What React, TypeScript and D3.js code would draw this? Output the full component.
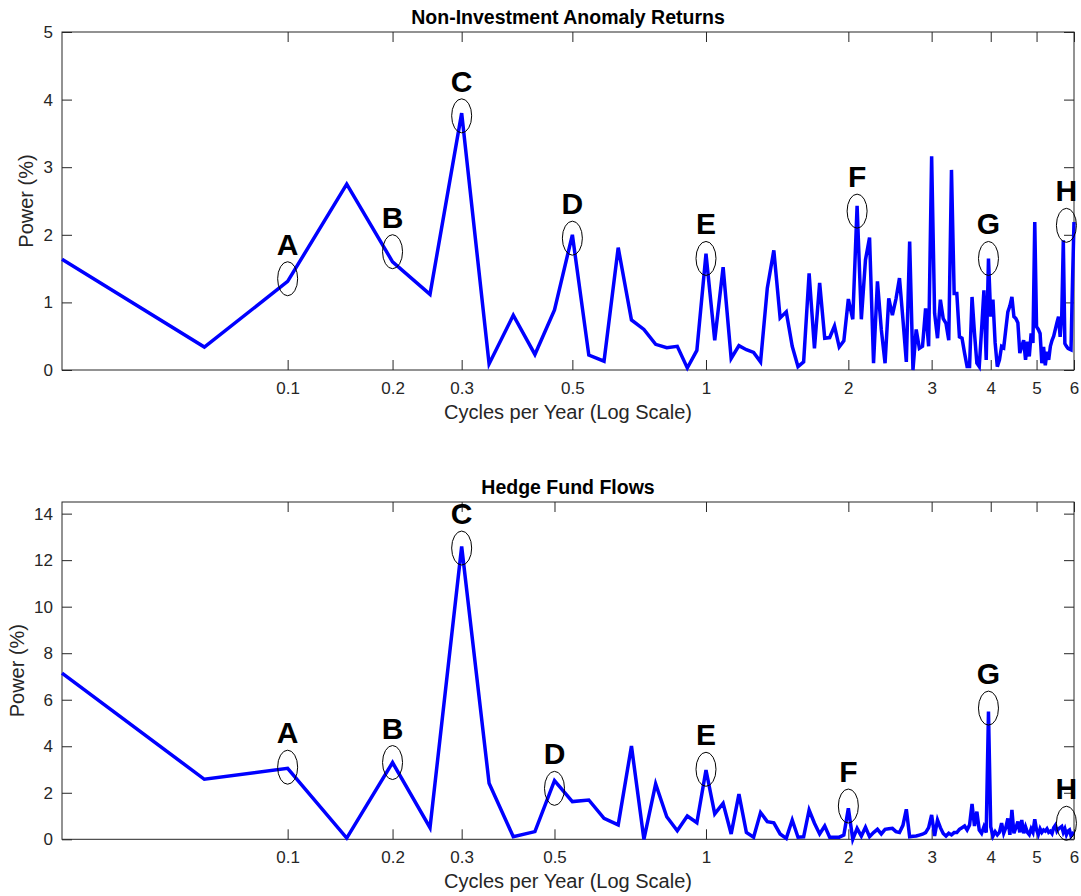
import * as d3 from 'd3'
import { useEffect, useRef } from 'react'

// periodogram on a 23-year monthly sample: harmonic k sits at k / 23 cycles per year
const nYears = 23

const topTitle = 'Non-Investment Anomaly Returns'
const bottomTitle = 'Hedge Fund Flows'
const xLabel = 'Cycles per Year (Log Scale)'
const yLabel = 'Power (%)'

// power (%) for harmonics k = 1..138
const anomalyPower = [
  1.64, 0.34, 1.31, 2.75, 1.60, 1.12, 3.80, 0.09, 0.81, 0.23,
  0.89, 2.00, 0.22, 0.13, 1.81, 0.74, 0.60, 0.38, 0.33, 0.35,
  0.03, 0.29, 1.72, 0.44, 1.52, 0.17, 0.36, 0.30, 0.26, 0.12,
  1.21, 1.77, 0.77, 0.86, 0.35, 0.05, 0.12, 1.43, 0.32, 1.29,
  0.47, 0.48, 0.65, 0.34, 0.43, 1.05, 0.75, 2.43, 0.75, 1.63,
  1.96, 0.10, 1.31, 0.60, 0.10, 1.06, 0.81, 1.05, 1.36, 0.75,
  0.12, 1.90, 0.00, 0.60, 0.32, 0.35, 0.91, 0.35, 3.16, 0.84,
  0.47, 1.04, 0.76, 0.69, 0.44, 2.96, 1.13, 1.13, 0.49, 0.47,
  0.25, 0.05, 0.05, 1.08, 0.55, 0.10, 0.05, 0.60, 1.18, 0.15,
  1.65, 0.79, 1.04, 0.40, 0.05, 0.15, 0.35, 0.33, 0.60, 0.86,
  0.95, 1.08, 0.79, 0.76, 0.70, 0.25, 0.35, 0.44, 0.15, 0.42,
  0.20, 0.54, 0.40, 2.19, 0.64, 0.60, 0.54, 0.10, 0.34, 0.07,
  0.27, 0.15, 0.35, 0.44, 0.50, 0.60, 0.70, 0.79, 0.49, 0.80,
  1.92, 0.39, 0.35, 0.32, 0.31, 0.30, 1.30, 2.19,
]

const flowPower = [
  7.14, 2.58, 3.05, 0.05, 3.30, 0.50, 12.59, 2.41, 0.11, 0.33,
  2.52, 1.62, 1.69, 0.90, 0.62, 4.01, 0.00, 2.38, 0.97, 0.37,
  1.00, 0.71, 2.98, 1.09, 1.55, 0.23, 1.94, 0.29, 0.09, 1.15,
  0.76, 0.71, 0.23, 0.04, 0.83, 0.09, 0.11, 1.26, 0.69, 0.23,
  0.57, 0.09, 0.09, 0.09, 0.18, 1.33, 0.00, 0.47, 0.14, 0.52,
  0.11, 0.29, 0.43, 0.23, 0.43, 0.45, 0.47, 0.33, 0.29, 0.60,
  1.29, 0.11, 0.13, 0.14, 0.18, 0.22, 0.29, 0.50, 1.05, 0.14,
  0.83, 0.50, 0.25, 0.14, 0.26, 0.19, 0.29, 0.29, 0.43, 0.50,
  0.57, 0.40, 0.62, 1.52, 0.57, 1.19, 0.40, 0.26, 0.54, 0.29,
  5.49, 0.54, 0.14, 0.33, 0.19, 0.30, 0.70, 0.26, 0.50, 0.90,
  0.19, 1.26, 0.26, 0.50, 0.76, 0.30, 0.83, 0.26, 0.54, 0.30,
  0.20, 0.45, 0.30, 0.86, 0.40, 0.20, 0.45, 0.30, 0.40, 0.35,
  0.45, 0.30, 0.35, 0.25, 0.50, 0.60, 0.35, 0.45, 0.50, 0.55,
  0.30, 0.45, 0.20, 0.35, 0.40, 0.15, 0.25, 0.30,
]

const tickLabels = ['0.1', '0.2', '0.3', '0.5', '1', '2', '3', '4', '5', '6']
const topTickHarmonic = [3, 5, 7, 12, 23, 46, 69, 92, 115, 138]
const bottomTickHarmonic = [3, 5, 7, 11, 23, 46, 69, 92, 115, 138]

const markLetters = ['A', 'B', 'C', 'D', 'E', 'F', 'G', 'H']
const topMarkHarmonic = [3, 5, 7, 12, 23, 48, 91, 133]
const topMarkPower = [1.35, 1.75, 3.76, 1.95, 1.65, 2.35, 1.65, 2.14]
const bottomMarkHarmonic = [3, 5, 7, 11, 23, 46, 91, 133]
const bottomMarkPower = [3.10, 3.30, 12.52, 2.19, 3.01, 1.43, 5.64, 0.69]

const W = 1081, H = 896
const FONT = '"Liberation Sans", Arial, Helvetica, sans-serif'
const AX = '#262626'

function drawPanel(svg, o) {
  const x = d3.scaleLog().domain([1 / nYears, 138 / nYears]).range([62, 1074])
  const y = d3.scaleLinear().domain(o.yDomain).range([o.bottom, o.top])
  const g = svg.append('g')
  const ticks = o.tickHarmonic.map(k => k / nYears)
  const lab = d3.scaleOrdinal().domain(ticks).range(tickLabels)

  // inward ticks on all four sides (matlab box)
  const xb = g.append('g').attr('transform', `translate(0,${o.bottom})`)
    .call(d3.axisBottom(x).tickValues(ticks).tickFormat(d => lab(d)).tickSizeInner(-10).tickSizeOuter(0).tickPadding(12))
  const xt = g.append('g').attr('transform', `translate(0,${o.top})`)
    .call(d3.axisTop(x).tickValues(ticks).tickFormat('').tickSizeInner(-10).tickSizeOuter(0))
  const yl = g.append('g').attr('transform', 'translate(62,0)')
    .call(d3.axisLeft(y).tickValues(o.yTicks).tickFormat(d3.format('d')).tickSizeInner(-10).tickSizeOuter(0).tickPadding(9))
  const yr = g.append('g').attr('transform', 'translate(1074,0)')
    .call(d3.axisRight(y).tickValues(o.yTicks).tickFormat('').tickSizeInner(-10).tickSizeOuter(0))
  ;[xb, xt, yl, yr].forEach(a => {
    a.select('.domain').remove()
    a.selectAll('line').attr('stroke', AX)
    a.selectAll('text').attr('fill', AX).style('font-family', FONT).style('font-size', '17px')
  })

  g.append('rect').attr('x', 62).attr('y', o.top).attr('width', 1074 - 62).attr('height', o.bottom - o.top)
    .attr('fill', 'none').attr('stroke', AX).attr('stroke-width', 1)

  const pts = o.values.map((p, i) => [(i + 1) / nYears, p])
  g.append('path').datum(pts)
    .attr('d', d3.line().x(d => x(d[0])).y(d => y(d[1])))
    .attr('fill', 'none').attr('stroke', '#0000ff').attr('stroke-width', 3.5)
    .attr('stroke-linejoin', 'miter')

  // letter annotations
  const marks = o.markHarmonic.map((k, i) => ({ f: k / nYears, p: o.markPower[i], t: markLetters[i] }))
  g.selectAll('ellipse').data(marks).enter().append('ellipse')
    .attr('cx', d => x(d.f)).attr('cy', d => y(d.p)).attr('rx', 10).attr('ry', 17)
    .attr('fill', 'none').attr('stroke', '#000').attr('stroke-width', 1)
  g.selectAll('text.mark').data(marks).enter().append('text').attr('class', 'mark')
    .attr('x', d => x(d.f)).attr('y', d => y(d.p) - 24)
    .attr('text-anchor', 'middle').style('font-family', FONT).style('font-weight', 'bold')
    .style('font-size', '30px').text(d => d.t)

  g.append('text').attr('x', 568).attr('y', o.top - 8).attr('text-anchor', 'middle')
    .style('font-family', FONT).style('font-weight', 'bold').style('font-size', '19.5px').text(o.title)
  g.append('text').attr('x', 568).attr('y', o.bottom + 49).attr('text-anchor', 'middle')
    .attr('fill', AX).style('font-family', FONT).style('font-size', '20px').text(xLabel)
  g.append('text').attr('transform', `translate(${o.yLabelX},${(o.top + o.bottom) / 2}) rotate(-90)`)
    .attr('text-anchor', 'middle').attr('fill', AX)
    .style('font-family', FONT).style('font-size', '20px').text(yLabel)
}

export default function App() {
  const ref = useRef(null)
  useEffect(() => {
    const svg = d3.select(ref.current)
    svg.selectAll('*').remove()
    svg.append('rect').attr('width', W).attr('height', H).attr('fill', '#fff')
    drawPanel(svg, {
      title: topTitle, values: anomalyPower, top: 32, bottom: 370,
      yDomain: [0, 5], yTicks: [0, 1, 2, 3, 4, 5], yLabelX: 33,
      tickHarmonic: topTickHarmonic, markHarmonic: topMarkHarmonic, markPower: topMarkPower,
    })
    drawPanel(svg, {
      title: bottomTitle, values: flowPower, top: 502, bottom: 839.3,
      yDomain: [0, 14.5], yTicks: [0, 2, 4, 6, 8, 10, 12, 14], yLabelX: 24,
      tickHarmonic: bottomTickHarmonic, markHarmonic: bottomMarkHarmonic, markPower: bottomMarkPower,
    })
  }, [])
  return (
    <svg ref={ref} width={W} height={H} style={{ position: 'absolute', left: 0, top: 0 }} />
  )
}
